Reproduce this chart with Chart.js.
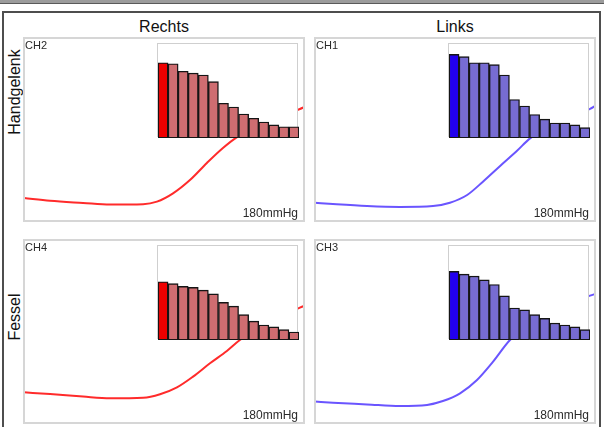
<!DOCTYPE html>
<html>
<head>
<meta charset="utf-8">
<script src="https://cdn.jsdelivr.net/npm/chart.js@4/dist/chart.umd.min.js"></script>
<style>
  html, body { margin: 0; padding: 0; background: #fff; }
  body { width: 604px; height: 427px; overflow: hidden; position: relative;
         font-family: "Liberation Sans", Arial, Helvetica, sans-serif; }
  .band { position: absolute; left: 0; top: 0; width: 604px; height: 3px;
          background: #9c9c9c; border-bottom: 1px solid #5a5a5a; }
  .frame { position: absolute; left: 2px; top: 11px; width: 595px; height: 440px;
           border: 2px solid #4e4e4e; border-bottom: none; }
  .title { position: absolute; font-size: 16px; line-height: 16px; color: #111;
           width: 120px; text-align: center; }
  .site { position: absolute; font-size: 16px; line-height: 16px; color: #111;
          width: 120px; text-align: center; transform: rotate(-90deg); }
  .panel { position: absolute; width: 282px; height: 185px; }
  .panel canvas.curve { position: absolute; left: 0; top: 0; }
  .panel .edge { position: absolute; left: 0; top: 0; width: 282px; height: 185px;
                 box-sizing: border-box; border: 2px solid #d6d6d6; pointer-events: none; }
  .inset { position: absolute; left: 134px; top: 6px; width: 141px; height: 94px;
           background: #fff; box-sizing: border-box; border: 1px solid #cfcfcf; border-bottom: none; }
  .inset canvas { position: absolute; left: 0; top: 0; }
  .ch { position: absolute; left: 2px; top: 3px; font-size: 11px; line-height: 11px; color: #2a2a2a; }
  .unit { position: absolute; right: 7px; bottom: 3px; font-size: 12px; line-height: 12px; color: #2a2a2a; }
</style>
</head>
<body>
<div class="band"></div>
<div class="frame"></div>
<script>
// Column and row headings
const sideTitles = ['Rechts', 'Links'];
const siteLabels = ['Handgelenk', 'Fessel'];
const channelNames = ['CH2', 'CH1', 'CH4', 'CH3'];
const pressureLabel = '180mmHg';

// Cuff steps shown in each bar inset
const steps = ['1','2','3','4','5','6','7','8','9','10','11','12','13','14'];

// Bar heights per channel (percent of inset height)
const ch2Bars = [80, 79, 71, 69, 67, 60, 37, 33, 25.5, 21, 17, 14, 12, 12];
const ch1Bars = [89, 86.5, 80, 80, 78, 67, 41, 34, 25, 20, 16, 16, 14, 11];
const ch4Bars = [62, 60, 57, 56, 53, 49, 40, 36, 27, 20, 16, 14, 11, 8.5];
const ch3Bars = [73, 70, 68, 64, 59, 47, 34, 32, 27, 23, 18, 16, 14, 11];

// Pressure curves per channel (percent of panel width / height)
const ch2CurveX = [0.4, 9.6, 21.3, 30.9, 42.6, 47.5, 53.2, 59.2, 65.2, 70.9, 75.9, 87, 98.2, 100];
const ch2CurveY = [13.0, 11.5, 10.3, 9.4, 9.6, 11.0, 15.5, 22.7, 31.9, 40.0, 45.9, 54.5, 61.1, 62.3];
const ch1CurveX = [0.35, 6.7, 18.8, 30.5, 42.2, 48.2, 54.3, 59.9, 66.0, 72.0, 76.6, 87.2, 97.9, 100];
const ch1CurveY = [10.4, 9.7, 8.6, 8.1, 8.6, 10.4, 14.6, 21.8, 30.3, 38.5, 45.2, 55.1, 61.1, 63.0];
const ch4CurveX = [0.4, 9.6, 21.3, 30.9, 42.6, 48.6, 54.6, 60.3, 66.3, 72.3, 76.9, 88, 98.2, 100];
const ch4CurveY = [17.1, 16.2, 14.8, 13.9, 14.2, 16.1, 19.8, 25.6, 32.8, 39.5, 45.4, 56, 62.9, 64.0];
const ch3CurveX = [0.35, 6.7, 18.8, 30.5, 40.1, 45.7, 51.8, 57.8, 63.5, 69.5, 82, 97.9, 100];
const ch3CurveY = [12.1, 11.5, 10.6, 9.7, 10.3, 12.4, 16.6, 23.8, 33.7, 45.4, 60, 69.4, 70.4];

// Colours for right (red) and left (blue) side channels
const redSide  = { line: '#ff2b2b', bar: '#cf6d71', lead: '#ee0000' };
const blueSide = { line: '#6a55ff', bar: '#776cd2', lead: '#2200ee' };

const panels = [
  { name: channelNames[0], bars: ch2Bars, cx: ch2CurveX, cy: ch2CurveY, pal: redSide,  left: 23,  top: 37 },
  { name: channelNames[1], bars: ch1Bars, cx: ch1CurveX, cy: ch1CurveY, pal: blueSide, left: 314, top: 37 },
  { name: channelNames[2], bars: ch4Bars, cx: ch4CurveX, cy: ch4CurveY, pal: redSide,  left: 23,  top: 239 },
  { name: channelNames[3], bars: ch3Bars, cx: ch3CurveX, cy: ch3CurveY, pal: blueSide, left: 314, top: 239 }
];

function addDiv(cls, text, style) {
  const d = document.createElement('div');
  d.className = cls;
  d.textContent = text;
  Object.assign(d.style, style);
  document.body.appendChild(d);
  return d;
}

// Headings
addDiv('title', sideTitles[0], { left: (164 - 60) + 'px', top: '19px' });
addDiv('title', sideTitles[1], { left: (455 - 60) + 'px', top: '19px' });
addDiv('site', siteLabels[0], { left: (15 - 60) + 'px', top: (92 - 8) + 'px' });
addDiv('site', siteLabels[1], { left: (15 - 60) + 'px', top: (317 - 8) + 'px' });

const hidden = { display: false, grid: { display: false } };

panels.forEach(p => {
  const box = document.createElement('div');
  box.className = 'panel';
  box.style.left = p.left + 'px';
  box.style.top = p.top + 'px';
  document.body.appendChild(box);

  // Pressure curve across the whole panel
  const cv = document.createElement('canvas');
  cv.className = 'curve';
  cv.width = 282; cv.height = 185;
  cv.style.width = '282px'; cv.style.height = '185px';
  box.appendChild(cv);

  new Chart(cv, {
    type: 'line',
    data: {
      datasets: [{
        data: p.cx.map((x, i) => ({ x: x, y: p.cy[i] })),
        borderColor: p.pal.line,
        borderWidth: 2,
        pointRadius: 0,
        cubicInterpolationMode: 'monotone',
        fill: false
      }]
    },
    options: {
      responsive: false,
      animation: false,
      layout: { padding: 0 },
      plugins: { legend: { display: false }, tooltip: { enabled: false } },
      scales: {
        x: Object.assign({ type: 'linear', min: 0, max: 100 }, hidden),
        y: Object.assign({ type: 'linear', min: 0, max: 100 }, hidden)
      }
    }
  });

  // Step-amplitude inset
  const inset = document.createElement('div');
  inset.className = 'inset';
  box.appendChild(inset);
  const bc = document.createElement('canvas');
  bc.width = 141; bc.height = 94;
  bc.style.width = '141px'; bc.style.height = '94px';
  inset.appendChild(bc);

  new Chart(bc, {
    type: 'bar',
    data: {
      labels: steps,
      datasets: [{
        data: p.bars,
        backgroundColor: p.bars.map((_, i) => i === 0 ? p.pal.lead : p.pal.bar),
        borderColor: '#151515',
        borderWidth: 1.4,
        borderSkipped: false,
        barPercentage: 1,
        categoryPercentage: 1
      }]
    },
    options: {
      responsive: false,
      animation: false,
      layout: { padding: 0 },
      plugins: { legend: { display: false }, tooltip: { enabled: false } },
      scales: {
        x: Object.assign({ type: 'category' }, hidden),
        y: Object.assign({ type: 'linear', min: 0, max: 100 }, hidden)
      }
    }
  });

  const edge = document.createElement('div');
  edge.className = 'edge';
  box.appendChild(edge);

  const ch = document.createElement('div');
  ch.className = 'ch';
  ch.textContent = p.name;
  box.appendChild(ch);

  const unit = document.createElement('div');
  unit.className = 'unit';
  unit.textContent = pressureLabel;
  box.appendChild(unit);
});
</script>
</body>
</html>
